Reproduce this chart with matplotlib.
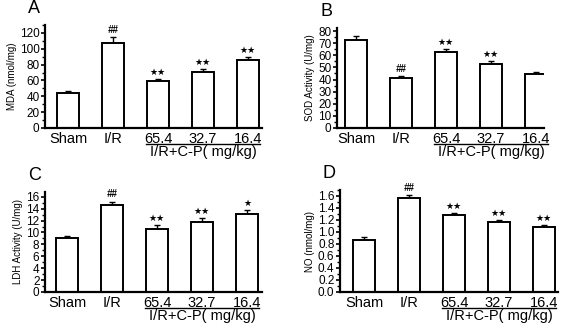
import matplotlib
matplotlib.use('Agg')
import matplotlib.pyplot as pp
import numpy as np

pp.rcParams['font.family'] = ['Liberation Sans', 'DejaVu Sans']

groups = ['Sham', 'I/R', '65.4', '32.7', '16.4']
group_label = 'I/R+C-P( mg/kg)'

# panel values (mean, upper error)
mda = [44, 107, 59, 71, 86]
mda_err = [3, 8, 3, 3, 4]
mda_marks = ['', '##', '★★', '★★', '★★']

sod = [73, 41, 62.5, 53, 44.5]
sod_err = [2.5, 2, 2.5, 2, 2]
sod_marks = ['', '##', '★★', '★★', '']

ldh = [9.1, 14.7, 10.6, 11.8, 13.1]
ldh_err = [0.3, 0.5, 0.6, 0.6, 0.6]
ldh_marks = ['', '##', '★★', '★★', '★']

no = [0.87, 1.57, 1.28, 1.17, 1.09]
no_err = [0.05, 0.05, 0.03, 0.03, 0.03]
no_marks = ['', '##', '★★', '★★', '★★']

W, H = 574, 323


def px_axes(fig, left, right, top, bottom):
    return fig.add_axes([left / W, 1 - bottom / H, (right - left) / W, (bottom - top) / H])


def panel(ax, vals, errs, marks, ylabel, ymax, major, minor, fmt, letter, first_px):
    x = np.arange(len(vals))
    axis_px = ax.get_position().width * W
    step = 45.0
    left = -first_px / step
    ax.set_xlim(left, left + axis_px / step)
    ax.bar(x, vals, width=0.51, color='white', edgecolor='black', linewidth=1.4, zorder=2)
    ax.errorbar(x, vals, yerr=[np.zeros(len(vals)), errs], fmt='none', ecolor='black',
                elinewidth=1.0, capsize=2.5, capthick=1.0, zorder=1)
    for xi, v, e, m in zip(x, vals, errs, marks):
        if m.startswith('#'):
            ax.annotate(m, (xi, v + e), xytext=(0, 1.5), textcoords='offset points',
                        ha='center', va='bottom', fontsize=7, fontstyle='italic',
                        fontweight='bold')
        elif m:
            ax.annotate(m, (xi, v + e), xytext=(0, 1.5), textcoords='offset points',
                        ha='center', va='bottom', fontsize=6.5, family='DejaVu Sans')
    ax.set_ylim(0, ymax)
    ax.set_yticks(np.arange(0, ymax + 1e-9, major))
    ax.set_yticks(np.arange(0, ymax + 1e-9, minor), minor=True)
    ax.set_yticklabels([fmt.format(t) for t in np.arange(0, ymax + 1e-9, major)])
    ax.set_xticks(x)
    ax.set_xticklabels(groups)
    ax.tick_params(axis='x', length=0, pad=3, labelsize=10.5)
    ax.tick_params(axis='y', which='major', length=3, width=1.2, pad=1, labelsize=8.5)
    ax.tick_params(axis='y', which='minor', length=2, width=1.0)
    for s in ['top', 'right']:
        ax.spines[s].set_visible(False)
    for s in ['left', 'bottom']:
        ax.spines[s].set_linewidth(1.6)
    ax.set_ylabel(ylabel, fontsize=7, labelpad=2)
    ax.set_facecolor('none')

    # underline and group label for the C-P doses
    tr = ax.get_xaxis_transform()
    h_px = ax.get_position().height * H
    ax.plot([2 - 0.27, 4 + 0.27], [-16 / h_px] * 2, color='black', lw=1.0,
            transform=tr, clip_on=False)
    ax.text(3, -24 / h_px, group_label, transform=tr, ha='center', va='center',
            fontsize=10.5)
    ax.text(-0.05, 1.08, letter, transform=ax.transAxes, fontsize=13, ha='center', va='bottom')


fig = pp.figure(figsize=(W / 100, H / 100), dpi=100)

ax_a = px_axes(fig, 45, 262, 25, 128)
panel(ax_a, mda, mda_err, mda_marks, 'MDA (nmol/mg)', 130, 20, 10, '{:.0f}', 'A', 23)

ax_b = px_axes(fig, 337, 544, 28, 128)
panel(ax_b, sod, sod_err, sod_marks, 'SOD Activity (U/mg)', 82.5, 10, 5, '{:.0f}', 'B', 19)

ax_c = px_axes(fig, 45, 262, 192, 292)
panel(ax_c, ldh, ldh_err, ldh_marks, 'LDH Activity (U/mg)', 16.8, 2, 1, '{:.0f}', 'C', 22)

ax_d = px_axes(fig, 340, 558, 190, 292)
panel(ax_d, no, no_err, no_marks, 'NO (nmol/mg)', 1.7, 0.2, 0.1, '{:.1f}', 'D', 24)

fig.savefig('out.png', dpi=100)
